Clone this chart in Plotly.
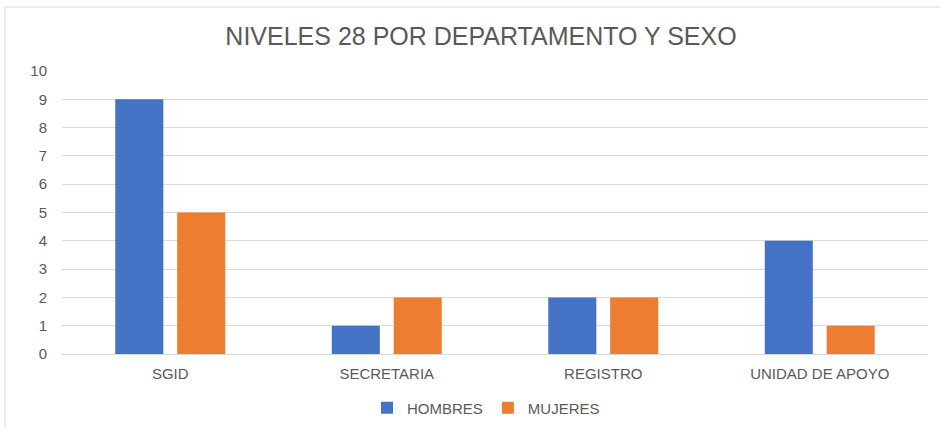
import plotly.graph_objects as go

categories = ["SGID", "SECRETARIA", "REGISTRO", "UNIDAD DE APOYO"]
hombres = [9, 1, 2, 4]
mujeres = [5, 2, 2, 1]
y_ticks = list(range(0, 11))

fig = go.Figure()
fig.add_trace(go.Bar(x=categories, y=hombres, name="HOMBRES", marker_color="#4472C4",
                     width=0.222, offset=-0.254, marker_line_width=0))
fig.add_trace(go.Bar(x=categories, y=mujeres, name="MUJERES", marker_color="#ED7D31",
                     width=0.222, offset=0.032, marker_line_width=0))

W, H = 940, 428
L, R, T, B = 62, 12, 71, 74
pw, ph = W - L - R, H - T - B

def px_x(x):
    return (x - L) / pw

def px_y(y):
    return (H - B - y) / ph

fig.update_layout(
    width=W, height=H,
    margin=dict(l=L, r=R, t=T, b=B, autoexpand=False),
    paper_bgcolor="white", plot_bgcolor="white",
    title=dict(text="NIVELES 28 POR DEPARTAMENTO Y SEXO", x=481 / W, xanchor="center",
               xref="container", y=1 - 36 / H, yanchor="middle",
               font=dict(family="Liberation Sans, Arial", size=25, color="#595959")),
    font=dict(family="Liberation Sans, Arial", size=15, color="#595959"),
    showlegend=True,
    legend=dict(orientation="h", x=486 / W, xanchor="center", xref="container",
                y=1 - 408 / H, yanchor="middle", yref="container",
                font=dict(size=15, color="#595959"), itemwidth=30),
    bargap=0.5,
    xaxis=dict(showgrid=False, showline=True, linecolor="#d9d9d9", linewidth=1,
               ticks="", ticklabelstandoff=6, tickfont=dict(size=15, color="#595959")),
    yaxis=dict(range=[0, 10], tickvals=y_ticks, showgrid=True, gridcolor="#d9d9d9",
               gridwidth=1, zeroline=False, showline=False, ticks="",
               ticklabelstandoff=14, tickfont=dict(size=15, color="#595959")),
    shapes=[dict(type="rect", xref="paper", yref="paper",
                 x0=px_x(5), x1=px_x(950), y0=px_y(440), y1=px_y(7),
                 line=dict(color="#d9d9d9", width=1), fillcolor="rgba(0,0,0,0)", layer="below")],
)

fig.write_html("out.html")
